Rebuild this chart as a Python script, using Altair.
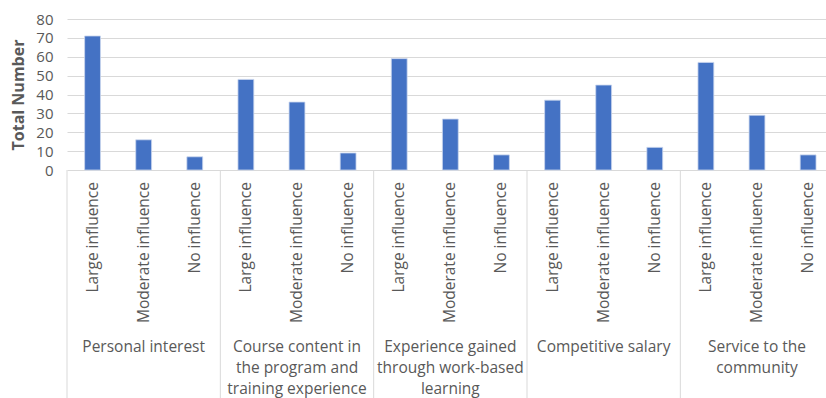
import altair as alt
import pandas as pd

groups = [
    "Personal interest",
    "Course content in the program and training experience",
    "Experience gained through work-based learning",
    "Competitive salary",
    "Service to the community",
]
group_labels = [
    "Personal interest",
    "Course content in|the program and|training experience",
    "Experience gained|through work-based|learning",
    "Competitive salary",
    "Service to the|community",
]
levels = ["Large influence", "Moderate influence", "No influence"]
values = [
    [71, 16, 7],
    [48, 36, 9],
    [59, 27, 8],
    [37, 45, 12],
    [57, 29, 8],
]
y_ticks = [0, 10, 20, 30, 40, 50, 60, 70, 80]

rows = []
for g, grp in enumerate(groups):
    for l, lev in enumerate(levels):
        rows.append({"group": grp, "level": lev, "value": values[g][l], "i": g * len(levels) + l})
df = pd.DataFrame(rows)
gdf = pd.DataFrame({"group": groups, "label": group_labels, "g": list(range(len(groups)))})

FONT = "Open Sans"
GRAY = "#595959"
LABEL_SIZE = 15.5
xscale = alt.Scale(domain=[0, 14.85], nice=False, zero=False, padding=0)

bars = alt.Chart(df).transform_calculate(
    x0="datum.i + 0.345", x1="datum.i + 0.655"
).mark_bar(color="#4472C4", stroke="#c9d6ee", strokeWidth=0.8, orient="vertical").encode(
    x=alt.X("x0:Q", scale=xscale, axis=None),
    x2="x1:Q",
    y=alt.Y(
        "value:Q",
        scale=alt.Scale(domain=[0, 80], nice=False, padding=0),
        axis=alt.Axis(
            values=y_ticks,
            title="Total Number",
            titleFont=FONT,
            titleFontSize=16,
            titleFontWeight="bold",
            titleColor=GRAY,
            titlePadding=9,
            labelFont=FONT,
            labelFontSize=15,
            labelColor=GRAY,
            labelPadding=14,
            domain=False,
            ticks=False,
            grid=True,
            gridColor="#d9d9d9",
            gridWidth=1,
        ),
    ),
    y2=alt.datum(0),
)

level_text = alt.Chart(df).transform_calculate(
    xc="datum.i + 0.5"
).mark_text(
    angle=270, align="right", baseline="middle", font=FONT, fontSize=LABEL_SIZE, color=GRAY
).encode(
    x=alt.X("xc:Q", scale=xscale, axis=None),
    y=alt.value(163),
    text="level:N",
)

group_text = alt.Chart(gdf).transform_calculate(
    xc="datum.g * 3 + 1.5"
).mark_text(
    align="center", baseline="top", font=FONT, fontSize=LABEL_SIZE, color=GRAY, lineHeight=21, lineBreak="|"
).encode(
    x=alt.X("xc:Q", scale=xscale, axis=None),
    y=alt.value(321),
    text="label:N",
)

seps = alt.Chart(gdf).transform_calculate(
    xs="datum.g * 3"
).mark_rule(color="#d9d9d9", strokeWidth=1).encode(
    x=alt.X("xs:Q", scale=xscale, axis=None),
    y=alt.value(151),
    y2=alt.value(400),
)

chart = alt.layer(seps, bars, level_text, group_text).properties(
    width=759,
    height=151,
    autosize=alt.AutoSizeParams(type="none"),
    padding={"left": 67, "top": 19, "right": 0, "bottom": 228},
).configure_view(strokeWidth=0)

chart.save("out.html", embed_options={"renderer": "svg", "actions": False})
